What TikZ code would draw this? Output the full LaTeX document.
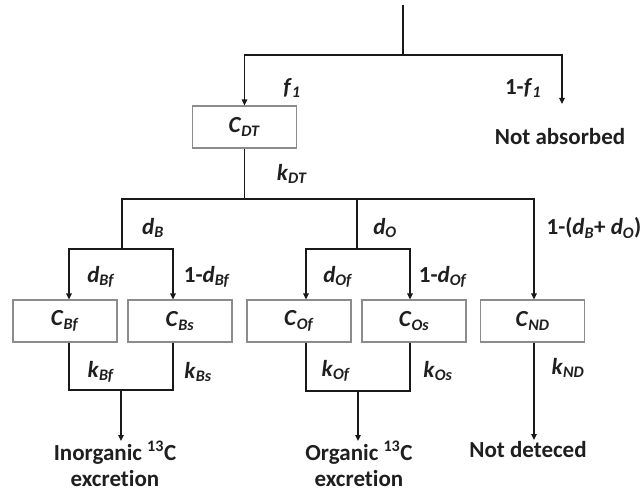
\documentclass[tikz,border=0pt]{standalone}
\usepackage{fontspec}
\setmainfont{Carlito}[Ligatures=NoCommon]
\usetikzlibrary{arrows.meta}
\newcommand\mylab[2]{\textit{#1}\textsubscript{\textit{#2}}}
\begin{document}
\begin{tikzpicture}[x=1pt,y=-1pt,
  every node/.style={font=\fontsize{23}{28}\selectfont\bfseries, text=black!88, inner sep=0pt},
  box/.style={draw=black!45, line width=1.1pt, minimum width=104pt, minimum height=42pt},
  conn/.style={draw=black!90, line width=1.8pt},
  arr/.style={-{Triangle[length=6pt,width=5.5pt]}},
  outtext/.style={font=\fontsize{23}{25.5}\selectfont\bfseries, align=center, anchor=north}
]
\useasboundingbox (0,0) rectangle (641,492);

% top level
\coordinate (top) at (403,5);
\coordinate (j1) at (403,55);
\node[box] (cdt) at (244.5,127) {\mylab{C}{DT}};
\coordinate (na) at (562,104);
\node (notabs) at (560,137) {Not absorbed};
\draw[conn] (top) -- (j1);
\draw[conn,arr] (j1) -| (cdt.north);
\draw[conn,arr] (j1) -| (na);
\node (f1) at (292,88) {\mylab{f}{1}};
\node (nf1) at (523,88) {1-\mylab{f}{1}};

% second level
\coordinate (j2) at (244.5,199);
\coordinate (jb) at (122,249);
\coordinate (jo) at (357,249);
\node[box] (cbf) at (65,321) {\mylab{C}{Bf}};
\node[box] (cbs) at (180,321) {\mylab{C}{Bs}};
\node[box] (cof) at (299,321) {\mylab{C}{Of}};
\node[box] (cos) at (414,321) {\mylab{C}{Os}};
\node[box] (cnd) at (532.5,321) {\mylab{C}{ND}};
\draw[conn] (cdt.south) -- (j2);
\draw[conn] (j2) -| (jb);
\draw[conn] (j2) -| (jo);
\draw[conn,arr] (j2) -| ([xshift=1.5pt]cnd.north);
\draw[conn,arr] (jb) -| ([xshift=4pt]cbf.north);
\draw[conn,arr] (jb) -| ([xshift=-7pt]cbs.north);
\draw[conn,arr] (jo) -| ([xshift=7pt]cof.north);
\draw[conn,arr] (jo) -| ([xshift=-4pt]cos.north);

\node (kdt) at (292,174) {\mylab{k}{DT}};
\node (db) at (153,228) {\mylab{d}{B}};
\node (do) at (385,228) {\mylab{d}{O}};
\node (nd) at (594,228) {1-(\mylab{d}{B}+ \mylab{d}{O})};
\node (dbf) at (101,277) {\mylab{d}{Bf}};
\node (ndbf) at (207,277) {1-\mylab{d}{Bf}};
\node (dof) at (338,277) {\mylab{d}{Of}};
\node (ndof) at (443,277) {1-\mylab{d}{Of}};

% bottom level
\coordinate (eb) at (121,390);
\coordinate (eo) at (358,391);
\coordinate (ndend) at (534,440);
\draw[conn] ([xshift=4pt]cbf.south) |- (eb);
\draw[conn] ([xshift=-7pt]cbs.south) |- (eb);
\draw[conn] ([xshift=7pt]cof.south) |- (eo);
\draw[conn] ([xshift=-4pt]cos.south) |- (eo);
\node[outtext] (inorg) at (115,441) {Inorganic \textsuperscript{13}C\\excretion};
\node[outtext] (org) at (359,441) {Organic \textsuperscript{13}C\\excretion};
\node[outtext] (notdet) at (528,441) {Not deteced};
\draw[conn,arr] (eb) -- (inorg.north -| eb);
\draw[conn,arr] (eo) -- (org.north -| eo);
\draw[conn,arr] ([xshift=1.5pt]cnd.south) -- (ndend);

\node (kbf) at (101,372) {\mylab{k}{Bf}};
\node (kbs) at (198,372) {\mylab{k}{Bs}};
\node (kof) at (336,371) {\mylab{k}{Of}};
\node (kos) at (438,371) {\mylab{k}{Os}};
\node (knd) at (568,368) {\mylab{k}{ND}};
\end{tikzpicture}
\end{document}
